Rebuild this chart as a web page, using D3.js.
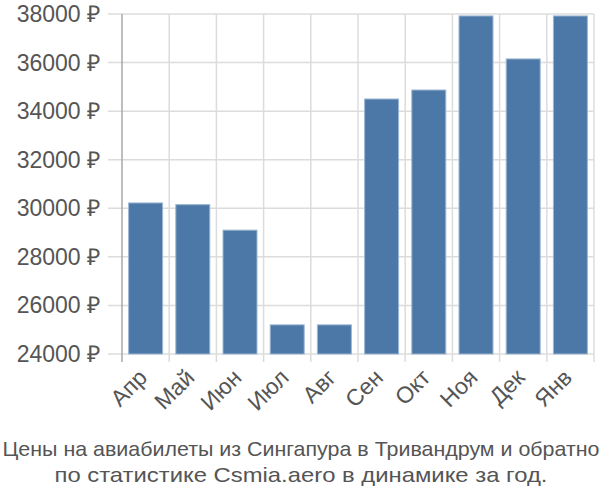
<!DOCTYPE html>
<html><head><meta charset="utf-8">
<script src="https://cdn.jsdelivr.net/npm/d3@7"></script>
<style>body{margin:0;background:#fff}svg{display:block}</style>
</head><body>
<script>
const categories = ["Апр","Май","Июн","Июл","Авг","Сен","Окт","Ноя","Дек","Янв"];
const values = [30220,30150,29100,25200,25200,34500,34870,37920,36150,37920];
const yTicks = [24000,26000,28000,30000,32000,34000,36000,38000];
const titleLines = ["Цены на авиабилеты из Сингапура в Тривандрум и обратно","по статистике Csmia.aero в динамике за год."];

const W=600,H=500, pL=122, pR=594, pT=14, pB=354;
const svg=d3.select("body").append("svg").attr("width",W).attr("height",H)
  .style("font-family","'Liberation Sans', Arial, sans-serif");
const x=d3.scaleBand().domain(categories).range([pL,pR]).paddingInner(0.28).paddingOuter(0.14);
const xb=d3.scaleBand().domain(categories).range([pL,pR]);
const y=d3.scaleLinear().domain([24000,38000]).range([pB,pT]);

// horizontal grid
svg.append("g").selectAll("line").data(yTicks).join("line")
  .attr("x1",108).attr("x2",pR).attr("y1",d=>y(d)).attr("y2",d=>y(d))
  .attr("stroke","#dcdcdc").attr("stroke-width",1.5);
// vertical grid
svg.append("g").selectAll("line").data(categories).join("line")
  .attr("x1",(d,i)=>pL+xb.step()*(i+1)).attr("x2",(d,i)=>pL+xb.step()*(i+1))
  .attr("y1",pT).attr("y2",pB+8)
  .attr("stroke","#dcdcdc").attr("stroke-width",1.5);
// bars
svg.append("g").selectAll("rect").data(values).join("rect")
  .attr("x",(d,i)=>x(categories[i])).attr("width",x.bandwidth())
  .attr("y",d=>y(d)).attr("height",d=>pB-y(d))
  .attr("fill","#4c78a8").attr("stroke","#9db6d2").attr("stroke-width",1);
// y axis line
svg.append("line").attr("x1",pL).attr("x2",pL).attr("y1",pT).attr("y2",pB+8)
  .attr("stroke","#a8a8a8").attr("stroke-width",1.5);
// y labels
svg.append("g").selectAll("text").data(yTicks).join("text")
  .attr("x",100).attr("y",d=>y(d)).attr("dy","0.35em").attr("text-anchor","end")
  .attr("font-size",23).attr("fill","#555").text(d=>d+" ₽");
// x labels
svg.append("g").selectAll("text").data(categories).join("text")
  .attr("transform",d=>`translate(${xb(d)+xb.bandwidth()/2+3},${pB+25}) rotate(-45)`)
  .attr("text-anchor","end").attr("font-size",23).attr("fill","#555").text(d=>d);
// title
const tl=[597,493];
svg.append("g").selectAll("text").data(titleLines).join("text")
  .attr("x",W/2+1).attr("y",(d,i)=>456+i*26).attr("text-anchor","middle")
  .attr("font-size",21).attr("fill","#555")
  .attr("textLength",(d,i)=>tl[i]).attr("lengthAdjust","spacingAndGlyphs").text(d=>d);
</script>
</body></html>
